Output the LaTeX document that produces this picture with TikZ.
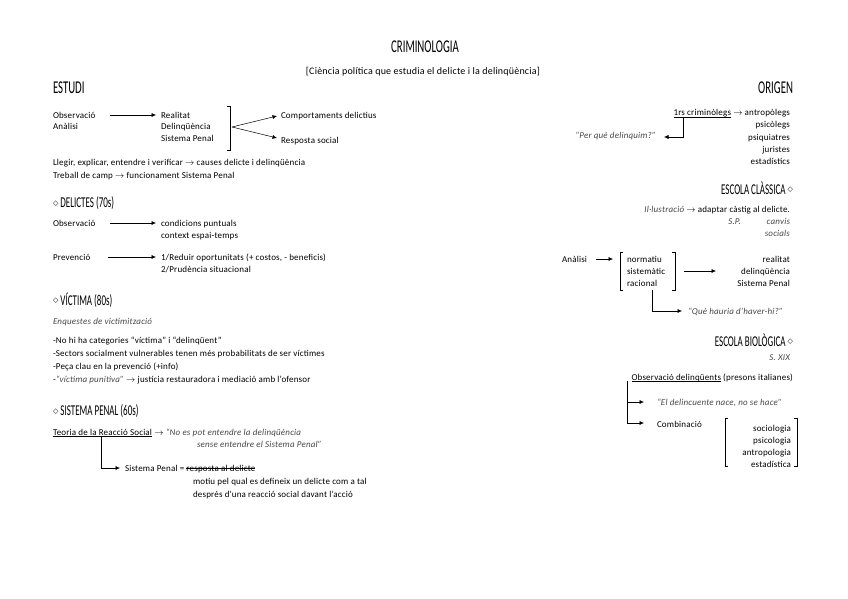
\documentclass[tikz,border=0pt]{standalone}
\usepackage{fontspec}
\setmainfont[LetterSpace=2]{Carlito}
\newfontfamily\headfont[FakeStretch=0.6]{Carlito}
\newfontfamily\symfont{DejaVu Sans}
\usetikzlibrary{arrows.meta}
\newcommand\bodyf{\fontsize{9}{10}\selectfont}
\newcommand\dia{\raisebox{0.15em}{\symfont\fontsize{7}{7}\selectfont ◇}}
\newlength\mylinew
\newcommand\strk[1]{\settowidth\mylinew{#1}\rlap{\rule[0.28em]{\mylinew}{0.5pt}}#1}
\newcommand\undl[1]{\settowidth\mylinew{#1}\rlap{\rule[-0.2em]{\mylinew}{0.45pt}}#1}
\definecolor{itgray}{gray}{0.28}
\begin{document}
\begin{tikzpicture}[x=1pt,y=-1pt,
  every node/.style={inner sep=0pt, outer sep=0pt},
  t/.style={anchor=base west, yshift=-3pt, font=\bodyf},
  tr/.style={anchor=base east, yshift=-3pt, font=\bodyf},
  ti/.style={anchor=base west, yshift=-3pt, font=\bodyf\itshape, text=itgray},
  tir/.style={anchor=base east, yshift=-3pt, font=\bodyf\itshape, text=itgray},
  hd/.style={font=\headfont\fontsize{18}{18}\selectfont},
  sh/.style={font=\headfont\fontsize{15}{15}\selectfont},
  arr/.style={-{Latex[length=4.5pt,width=4pt]}, line width=0.5pt},
  ln/.style={line width=0.5pt}]
\useasboundingbox (0,0) rectangle (848,599);

% title
\node[hd] (title) at (425,47) {CRIMINOLOGIA};
\node[font=\fontsize{10}{11}\selectfont] (sub) at (423,72) {[Ciència política que estudia el delicte i la delinqüència]};

% ESTUDI
\node[hd,anchor=west] (estudi) at (53,88) {ESTUDI};
\node[t] (obs) at (53,115) {Observació};
\node[t] (anal) at (53,127) {Anàlisi};
\node[t] (real) at (161,115) {Realitat};
\node[t] (delq) at (161,127) {Delinqüència};
\node[t] (sp) at (161,139) {Sistema Penal};
\coordinate (obsA) at (110,115);
\draw[arr] (obsA) -- ([xshift=-5pt]real.west |- obsA);
\coordinate (bt) at (230,106);
\coordinate (bb) at (230,150);
\draw[ln] ([xshift=-3pt]bt) -- (bt) -- (bb) -- ([xshift=-3pt]bb);
\coordinate (bm) at (232,127);
\node[t] (comp) at (281,115) {Comportaments delictius};
\node[t] (resp) at (281,140) {Resposta social};
\draw[arr] (bm) -- ([xshift=-4pt]comp.west |- 0,116);
\draw[arr] (bm) -- ([xshift=-4pt]resp.west |- 0,138);
\node[t] (llegir) at (53,162) {Llegir, explicar, entendre i verificar $\rightarrow$ causes delicte i delinqüència};
\node[t] (treball) at (53,175) {Treball de camp $\rightarrow$ funcionament Sistema Penal};

% DELICTES
\node[sh,anchor=west] (delictes) at (53,203) {\dia\ DELICTES (70s)};
\node[t] (obs2) at (53,223) {Observació};
\coordinate (o2a) at (110,223);
\node[t] (cond) at (161,223) {condicions puntuals};
\node[t] (ctx) at (161,235) {context espai-temps};
\draw[arr] (o2a) -- ([xshift=-5pt]cond.west |- o2a);
\node[t] (prev) at (53,257) {Prevenció};
\coordinate (pa) at (108,257);
\node[t] (red) at (161,257) {1/Reduir oportunitats (+ costos, - beneficis)};
\node[t] (prud) at (161,269) {2/Prudència situacional};
\draw[arr] (pa) -- ([xshift=-5pt]red.west |- pa);

% VICTIMA
\node[sh,anchor=west] (vict) at (53,300) {\dia\ VÍCTIMA (80s)};
\node[ti] (enq) at (53,321) {Enquestes de victimització};
\node[t] (v1) at (53,340) {-No hi ha categories “víctima” i “delinqüent”};
\node[t] (v2) at (53,353) {-Sectors socialment vulnerables tenen més probabilitats de ser víctimes};
\node[t] (v3) at (53,366) {-Peça clau en la prevenció (+info)};
\node[t] (v4) at (53,379) {-{\itshape\color{itgray}“víctima punitiva”} $\rightarrow$ justícia restauradora i mediació amb l'ofensor};

% SISTEMA PENAL
\node[sh,anchor=west] (spen) at (53,411) {\dia\ SISTEMA PENAL (60s)};
\node[t] (teoria) at (53,432) {\undl{Teoria de la Reacció Social} $\rightarrow$ {\itshape\color{itgray}“No es pot entendre la delinqüència}};
\node[ti] (sense) at (197,444) {sense entendre el Sistema Penal”};
\coordinate (tc) at (101,437);
\coordinate (tk) at (101,468);
\node[t] (speq) at (125,468) {Sistema Penal = \strk{resposta al delicte}};
\draw[arr] (tc) -- (tk) -- ([xshift=-5pt]speq.west |- tk);
\node[t] (motiu) at (193,481) {motiu pel qual es defineix un delicte com a tal};
\node[t] (despres) at (193,494) {després d'una reacció social davant l'acció};

% ORIGEN
\node[hd,anchor=east] (origen) at (793,88) {ORIGEN};
\node[tr] (crim) at (790,113) {\undl{1rs criminòlegs} $\rightarrow$ antropòlegs};
\node[tr] (psic) at (790,125) {psicòlegs};
\node[tr] (psiq) at (790,137) {psiquiatres};
\node[tr] (jur) at (790,149) {juristes};
\node[tr] (estd) at (790,161) {estadístics};
\coordinate (cv) at (683,117);
\coordinate (ck) at (683,137);
\node[tir] (perque) at (656,136) {“Per què delinquim?”};
\draw[arr] (cv) -- (ck) -- ([xshift=8pt]perque.east |- ck);

% ESCOLA CLASSICA
\node[sh,anchor=east] (ecl) at (793,188) {ESCOLA CLÀSSICA \dia};
\node[tr] (ill) at (790,209) {{\itshape\color{itgray}Il·lustració} $\rightarrow$ adaptar càstig al delicte.};
\node[tir] (spx) at (741,221) {S.P.};
\node[tir] (canv) at (790,221) {canvis};
\node[tir] (socs) at (790,233) {socials};
\node[t] (anal2) at (562,259) {Anàlisi};
\node[t] (norm) at (627,259) {normatiu};
\node[t] (sist) at (627,271) {sistemàtic};
\node[t] (rac) at (627,283) {racional};
\coordinate (lbt) at (620,252);
\coordinate (lbb) at (620,290);
\draw[ln] ([xshift=3pt]lbt) -- (lbt) -- (lbb) -- ([xshift=3pt]lbb);
\coordinate (rbt) at (675,252);
\coordinate (rbb) at (675,290);
\draw[ln] ([xshift=-3pt]rbt) -- (rbt) -- (rbb) -- ([xshift=-3pt]rbb);
\coordinate (aa) at (596,259);
\draw[arr] (aa) -- (613,259);
\coordinate (ma) at (684,271);
\node[tr] (real2) at (790,259) {realitat};
\node[tr] (delq2) at (790,271) {delinqüència};
\node[tr] (sp2) at (790,283) {Sistema Penal};
\draw[arr] (ma) -- (716,271);
\coordinate (qv) at (652,290);
\coordinate (qk) at (652,311);
\node[ti] (que) at (688,311) {“Què hauria d'haver-hi?”};
\draw[arr] (qv) -- (qk) -- ([xshift=-6pt]que.west |- qk);

% ESCOLA BIOLOGICA
\node[sh,anchor=east] (ebio) at (793,340) {ESCOLA BIOLÒGICA \dia};
\node[tir] (sxix) at (790,357) {S. XIX};
\node[tr] (obsd) at (793,377) {\undl{Observació delinqüents} (presons italianes)};
\coordinate (bv) at (627,381);
\coordinate (bk1) at (627,402);
\coordinate (bk2) at (627,423);
\node[ti] (nace) at (657,402) {“El delincuente nace, no se hace”};
\node[t] (comb) at (657,424) {Combinació};
\draw[ln] (bv) -- (bk2);
\draw[arr] (bk1) -- ([xshift=-13pt]nace.west |- bk1);
\draw[arr] (bk2) -- ([xshift=-13pt]comb.west |- bk2);
\coordinate (blt) at (725,418);
\coordinate (blb) at (725,466);
\draw[ln] ([xshift=3pt]blt) -- (blt) -- (blb) -- ([xshift=3pt]blb);
\coordinate (brt) at (797,418);
\coordinate (brb) at (797,466);
\draw[ln] ([xshift=-3pt]brt) -- (brt) -- (brb) -- ([xshift=-3pt]brb);
\node[tr] (soc1) at (791,428) {sociologia};
\node[tr] (psi1) at (791,440) {psicologia};
\node[tr] (ant1) at (791,452) {antropologia};
\node[tr] (est1) at (791,464) {estadística};
\end{tikzpicture}
\end{document}
